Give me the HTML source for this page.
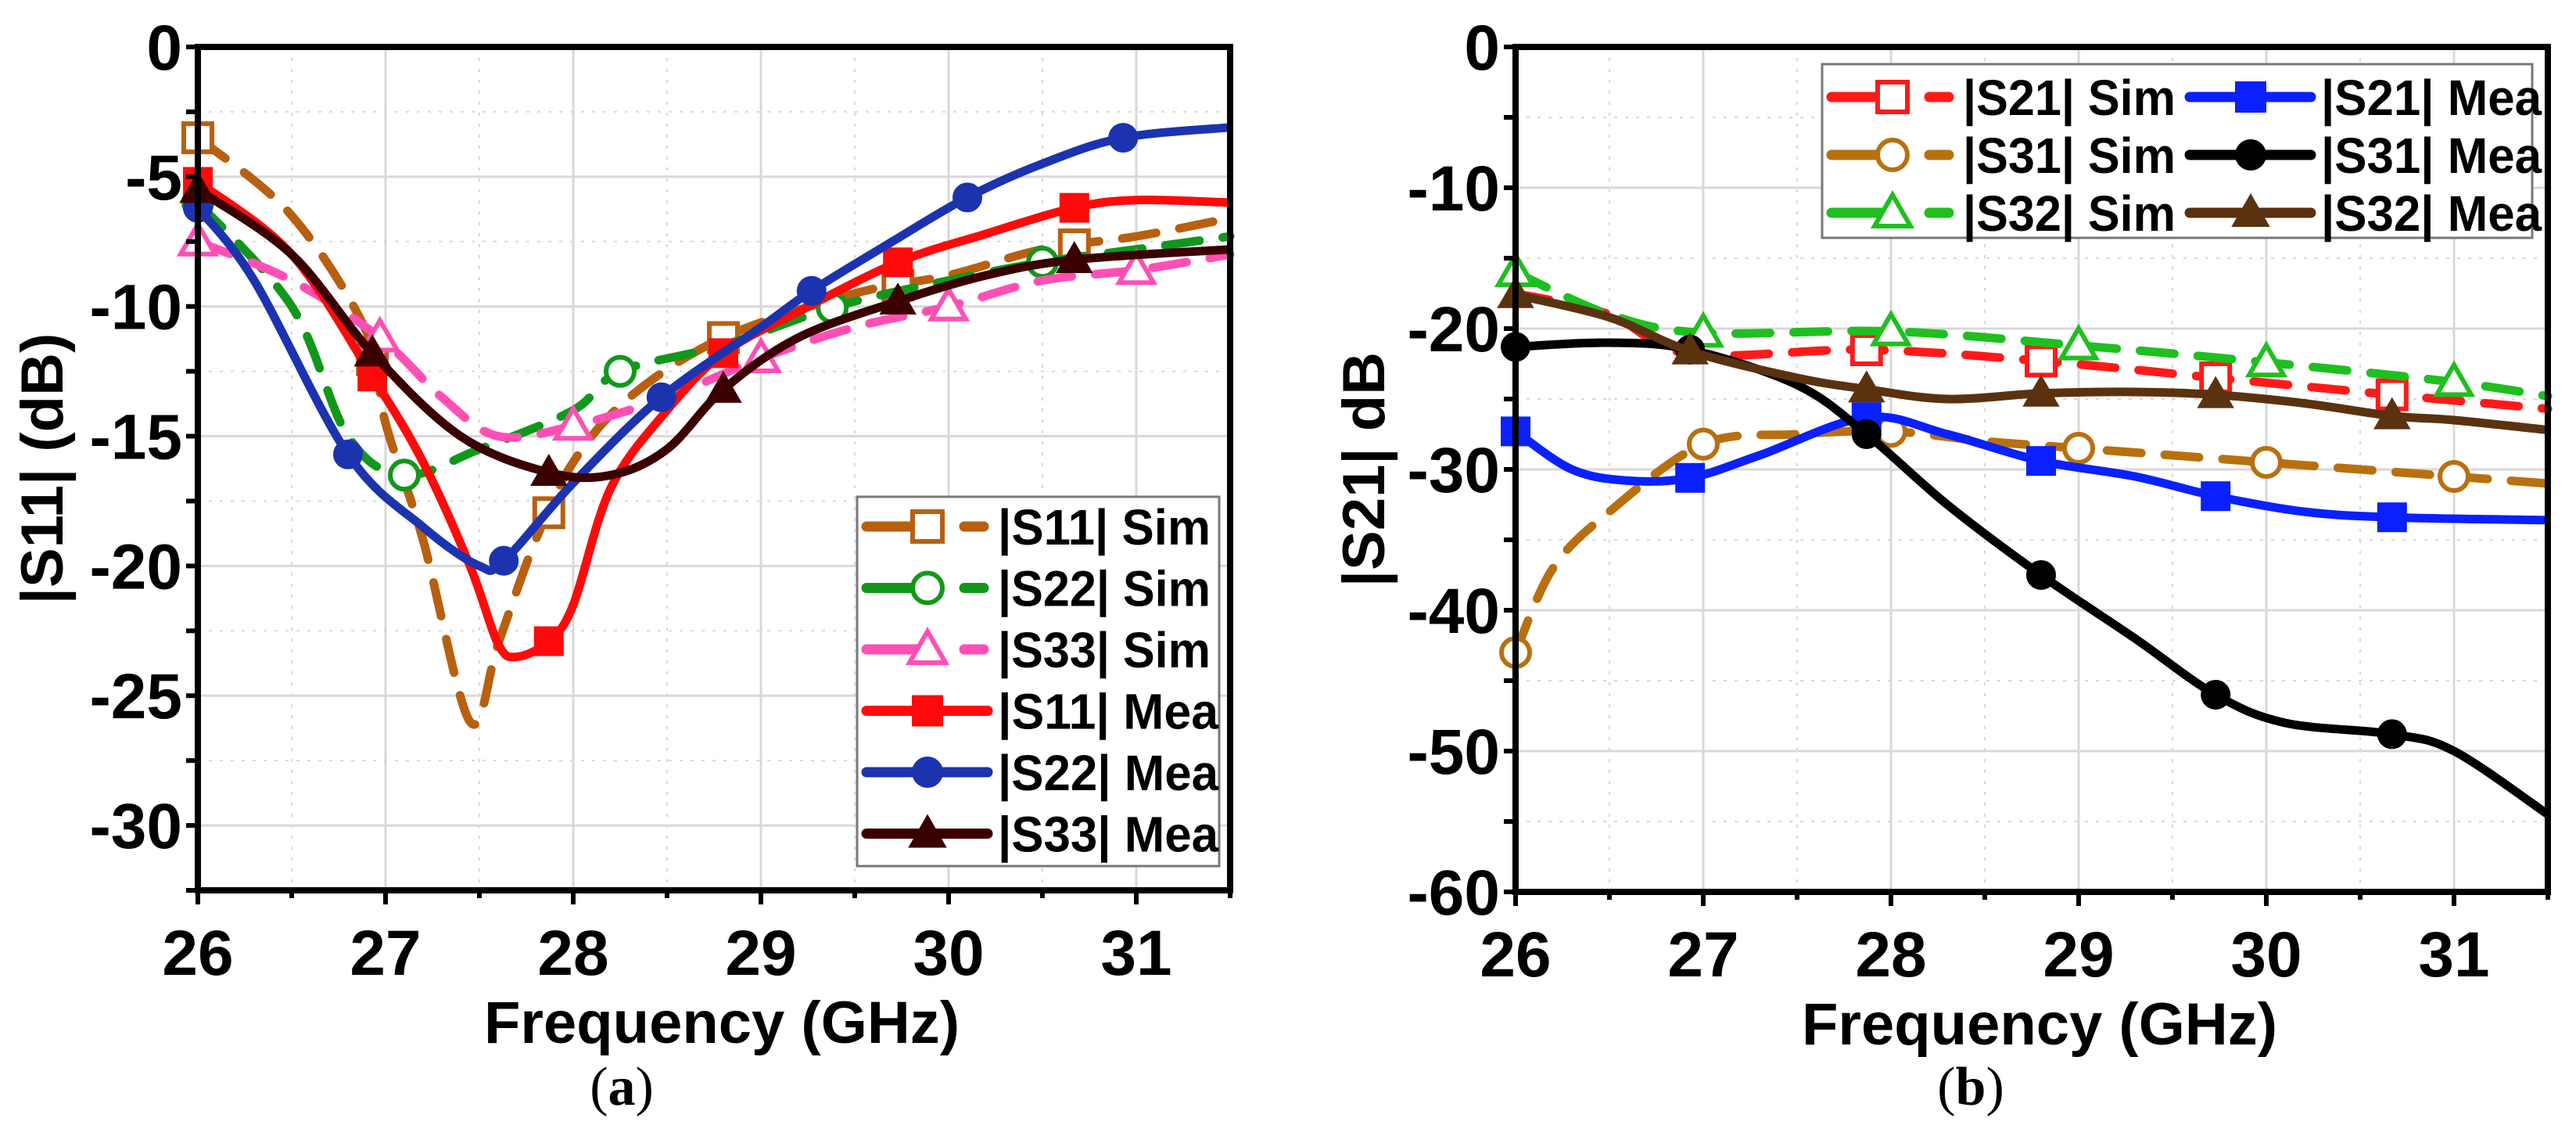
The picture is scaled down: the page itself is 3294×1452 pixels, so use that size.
<!DOCTYPE html>
<html><head><meta charset="utf-8">
<style>
html,body{margin:0;padding:0;background:#fff;}
svg{display:block;font-family:"Liberation Sans",Arial,sans-serif;}
</style></head>
<body>
<svg id="fig" width="3294" height="1452" viewBox="0 0 3294 1452" xmlns="http://www.w3.org/2000/svg">
<g id="chartA"></g>
<g id="chartB"></g>
<text x="795" y="1412" font-family="Liberation Serif,serif" font-size="70" text-anchor="middle">(<tspan font-weight="bold">a</tspan>)</text>
<text x="2520" y="1412" font-family="Liberation Serif,serif" font-size="70" text-anchor="middle">(<tspan font-weight="bold">b</tspan>)</text>
</svg>
<script>
// ---- Chart A data ----
const a_s11sim_f=[26,26.5,26.9,27.0,27.2,27.45,27.6,27.8,28.0,28.3,28.8,29.5,30,30.5,31,31.5];
const a_s11sim_v=[-3.5,-6.5,-11,-14.5,-19,-26,-23,-19,-16,-13.5,-11.2,-9.5,-8.8,-7.8,-7.3,-6.6];
const a_s11sim_m=[26,26.93,27.87,28.8,29.73,30.67];
const a_s22sim_f=[26,26.5,26.8,27.1,27.5,28.0,28.25,28.8,29.4,30,30.5,31,31.5];
const a_s22sim_v=[-6,-10,-15,-16.5,-15.5,-14,-12.5,-11.5,-10,-9,-8.3,-7.8,-7.3];
const a_s22sim_m=[26,27.1,28.25,29.38,30.5];
const a_s33sim_f=[26,26.5,26.97,27.3,27.6,28,28.5,29,29.5,30,30.5,31,31.5];
const a_s33sim_v=[-7.5,-9,-11.2,-13.5,-15,-14.6,-13.5,-12,-10.8,-10,-9,-8.6,-8];
const a_s33sim_m=[26,26.97,28,29,30,31];
const a_s11mea_f=[26,26.5,26.93,27.2,27.45,27.6,27.7,27.87,28.0,28.2,28.5,28.8,29.2,29.73,30.2,30.67,31,31.5];
const a_s11mea_v=[-5.2,-8,-12.7,-16,-20,-23,-23.5,-22.9,-21.5,-17,-14,-11.8,-10.2,-8.3,-7.2,-6.2,-5.9,-6];
const a_s11mea_m=[26,26.93,27.87,28.8,29.73,30.67];
const a_s22mea_f=[26,26.3,26.8,27.2,27.5,27.63,28.0,28.47,29,29.27,29.7,30.1,30.5,30.93,31.5];
const a_s22mea_v=[-6.2,-9,-15.7,-18.5,-20,-19.8,-16.8,-13.5,-10.8,-9.4,-7.5,-5.8,-4.5,-3.5,-3.1];
const a_s22mea_m=[26,26.8,27.63,28.47,29.27,30.1,30.93];
const a_s33mea_f=[26,26.5,26.93,27.4,27.87,28.2,28.5,28.8,29.2,29.73,30.2,30.67,31.5];
const a_s33mea_v=[-5.5,-8,-11.8,-15,-16.4,-16.5,-15.5,-13.2,-11.2,-9.8,-8.8,-8.2,-7.8];
const a_s33mea_m=[26,26.93,27.87,28.8,29.73,30.67];
const a_xticks=[26,27,28,29,30,31];
const a_yticks=[0,-5,-10,-15,-20,-25,-30];
// ---- Chart B data ----
const b_s21sim_f=[26,26.5,26.93,27.87,28.8,29.73,30.67,31.5];
const b_s21sim_v=[-17.5,-19,-21.8,-21.5,-22.3,-23.5,-24.7,-25.7];
const b_s21sim_m=[27.87,28.8,29.73,30.67];
const b_s31sim_f=[26,26.2,26.5,27.0,27.5,28,28.5,29,30,31,31.5];
const b_s31sim_v=[-43,-37,-33,-28.2,-27.5,-27.3,-28,-28.5,-29.5,-30.5,-31];
const b_s31sim_m=[26,27,28,29,30,31];
const b_s32sim_f=[26,26.5,27,28,29,30,31,31.5];
const b_s32sim_v=[-16,-19,-20.3,-20.2,-21.2,-22.4,-23.8,-24.8];
const b_s32sim_m=[26,27,28,29,30,31];
const b_s21mea_f=[26,26.3,26.6,26.93,27.3,27.87,28.3,28.8,29.3,29.73,30.2,30.67,31.5];
const b_s21mea_v=[-27.3,-30,-30.8,-30.6,-29,-26.3,-27.5,-29.4,-30.5,-31.9,-33,-33.4,-33.6];
const b_s21mea_m=[26,26.93,27.87,28.8,29.73,30.67];
const b_s31mea_f=[26,26.5,26.93,27.5,27.87,28.3,28.8,29.3,29.73,30.1,30.67,31,31.5];
const b_s31mea_v=[-21.3,-21,-21.5,-24,-27.5,-32.5,-37.5,-42,-46,-48,-48.8,-50,-54.5];
const b_s31mea_m=[26,26.93,27.87,28.8,29.73,30.67];
const b_s32mea_f=[26,26.5,26.93,27.5,27.87,28.3,28.8,29.3,29.73,30.2,30.67,31,31.5];
const b_s32mea_v=[-17.6,-19.2,-21.6,-23.5,-24.3,-25,-24.6,-24.5,-24.7,-25.3,-26.2,-26.5,-27.2];
const b_s32mea_m=[26,26.93,27.87,28.8,29.73,30.67];
const b_xticks=[26,27,28,29,30,31];
const b_yticks=[0,-10,-20,-30,-40,-50,-60];

const NS="http://www.w3.org/2000/svg";
function mk(parent,tag,attrs){const e=document.createElementNS(NS,tag);for(const k in attrs)e.setAttribute(k,attrs[k]);parent.appendChild(e);return e;}
function smooth(pts){let d="M"+pts[0][0]+","+pts[0][1];for(let i=0;i<pts.length-1;i++){const p0=pts[i-1]||pts[i],p1=pts[i],p2=pts[i+1],p3=pts[i+2]||p2;const c1=[p1[0]+(p2[0]-p0[0])/6,p1[1]+(p2[1]-p0[1])/6],c2=[p2[0]-(p3[0]-p1[0])/6,p2[1]-(p3[1]-p1[1])/6];d+=" C"+c1+" "+c2+" "+p2;}return d;}
function interp(f,v,x){for(let i=0;i<f.length-1;i++){if(x>=f[i]&&x<=f[i+1]){return v[i]+(v[i+1]-v[i])*(x-f[i])/(f[i+1]-f[i]);}}return x<f[0]?v[0]:v[v.length-1];}
function marker(g,type,cx,cy,color,s){
  const hw=s/2;let e;
  if(type==="sq"||type==="sqf"){e=mk(g,"rect",{x:cx-hw+4,y:cy-hw+4,width:s-8,height:s-8});}
  else if(type==="ci"||type==="cif"){e=mk(g,"circle",{cx:cx,cy:cy,r:hw-4});}
  else {e=mk(g,"polygon",{points:(cx)+","+(cy-hw)+" "+(cx+hw)+","+(cy+hw-6)+" "+(cx-hw)+","+(cy+hw-6)});}
  const filled=type.endsWith("f");
  e.setAttribute("fill",filled?color:"#fff");e.setAttribute("stroke",color);e.setAttribute("stroke-width",filled?2:6);
  return e;
}
function build(gid,cfg){
  const g=document.getElementById(gid);
  const X=f=>cfg.x0+(f-26)*(cfg.x1-cfg.x0)/5.5;
  const Y=v=>cfg.y0+(cfg.ymax-v)*(cfg.y1-cfg.y0)/(cfg.ymax-cfg.ymin);
  const grid=mk(g,"g",{});
  
  
  for(let f=26.5;f<31.5;f+=0.5){const major=Math.abs(f-Math.round(f))<1e-6;mk(grid,"line",{x1:X(f),x2:X(f),y1:cfg.y0,y2:cfg.y1,stroke:"#d8d8d8","stroke-width":major?3:2,"stroke-dasharray":major?"":"4,10"});}
  for(let v=cfg.ymax-cfg.step/2;v>cfg.ymin;v-=cfg.step/2){const major=Math.abs(v/cfg.step-Math.round(v/cfg.step))<1e-6;mk(grid,"line",{x1:cfg.x0,x2:cfg.x1,y1:Y(v),y2:Y(v),stroke:"#d8d8d8","stroke-width":major?3:2,"stroke-dasharray":major?"":"4,10"});}
  cfg.series.forEach(s=>{
    const sg=mk(g,"g",{});
    
    
    const pts=s.f.map((f,i)=>[X(f),Y(s.v[i])]);
    mk(sg,"path",{d:smooth(pts),fill:"none",stroke:s.c,"stroke-width":11,"stroke-dasharray":s.dash?"44,30":"","stroke-linejoin":"round","stroke-linecap":s.dash?"round":"butt"});
    s.m.forEach(f=>{const mm=marker(sg,s.mk,X(f),Y(interp(s.f,s.v,f)),s.c,44);
      
      });
  });
  const fr=mk(g,"rect",{x:cfg.x0,y:cfg.y0,width:cfg.x1-cfg.x0,height:cfg.y1-cfg.y0,fill:"none",stroke:"#000","stroke-width":8});
  
  
  for(let f=26;f<=31.5;f+=0.5){const major=Math.abs(f-Math.round(f))<1e-6;mk(g,"line",{x1:X(f),x2:X(f),y1:cfg.y1,y2:cfg.y1+(major?18:10),stroke:"#000","stroke-width":6});}
  cfg.xticks.forEach(t=>{const e=mk(g,"text",{x:X(t),y:cfg.y1+108,"font-size":82,"font-weight":"bold","text-anchor":"middle"});e.textContent=t;
    
    });
  for(let v=cfg.ymax;v>=cfg.ymin-1e-6;v-=cfg.step/2){mk(g,"line",{x1:cfg.x0,x2:cfg.x0-15,y1:Y(v),y2:Y(v),stroke:"#000","stroke-width":6});}
  cfg.yticks.forEach(t=>{const e=mk(g,"text",{x:cfg.x0-20,y:Y(t)+29,"font-size":82,"font-weight":"bold","text-anchor":"end"});e.textContent=t;
    
    });
  const xt=mk(g,"text",{x:(cfg.x0+cfg.x1)/2+10,y:cfg.y1+195,"font-size":76,"font-weight":"bold","text-anchor":"middle"});xt.textContent="Frequency (GHz)";
  
  
  const yt=mk(g,"text",{x:0,y:0,"font-size":76,"font-weight":"bold","text-anchor":"middle",transform:"translate("+cfg.ytx+","+((cfg.y0+cfg.y1)/2)+") rotate(-90)"});yt.textContent=cfg.ytitle;
  
  
  const L=cfg.legend;
  const lg=mk(g,"g",{});
  
  
  mk(lg,"rect",{x:L.x,y:L.y,width:L.w,height:L.h,fill:"#fff",stroke:"#777","stroke-width":3});
  cfg.series.forEach((s,i)=>{
    const col=Math.floor(i/L.rows),row=i%L.rows;
    const lx=L.x+12+col*L.colw,ly=L.y+L.r0+row*L.rh;
    const eg=mk(lg,"g",{});
    
    
    if(s.dash){mk(eg,"line",{x1:lx,x2:lx+80,y1:ly,y2:ly,stroke:s.c,"stroke-width":13,"stroke-linecap":"round"});mk(eg,"line",{x1:lx+125,x2:lx+150,y1:ly,y2:ly,stroke:s.c,"stroke-width":13,"stroke-linecap":"round"});}
    else mk(eg,"line",{x1:lx,x2:lx+155,y1:ly,y2:ly,stroke:s.c,"stroke-width":13,"stroke-linecap":"round"});
    marker(eg,s.mk,lx+78,ly,s.c,46);
    const t=mk(eg,"text",{x:lx+168,y:ly+23,"font-size":64,"font-weight":"bold",textLength:s.dash?272:282,lengthAdjust:"spacingAndGlyphs"});t.textContent=s.label;
  });
}
build("chartA",{x0:253,x1:1573,y0:60,y1:1138,ymax:0,ymin:-32.5,step:5,xticks:a_xticks,yticks:a_yticks,ytitle:"|S11| (dB)",ytx:80,
  legend:{x:1096,y:635,w:463,h:472,rows:6,colw:0,r0:38,rh:78.5},
  series:[
  {name:"s11-sim",label:"|S11| Sim",f:a_s11sim_f,v:a_s11sim_v,m:a_s11sim_m,c:"#b8600f",mk:"sq",dash:true},
  {name:"s22-sim",label:"|S22| Sim",f:a_s22sim_f,v:a_s22sim_v,m:a_s22sim_m,c:"#11981a",mk:"ci",dash:true},
  {name:"s33-sim",label:"|S33| Sim",f:a_s33sim_f,v:a_s33sim_v,m:a_s33sim_m,c:"#ff4fb5",mk:"tr",dash:true},
  {name:"s11-mea",label:"|S11| Mea",f:a_s11mea_f,v:a_s11mea_v,m:a_s11mea_m,c:"#ff0a0a",mk:"sqf",dash:false},
  {name:"s22-mea",label:"|S22| Mea",f:a_s22mea_f,v:a_s22mea_v,m:a_s22mea_m,c:"#1c33b0",mk:"cif",dash:false},
  {name:"s33-mea",label:"|S33| Mea",f:a_s33mea_f,v:a_s33mea_v,m:a_s33mea_m,c:"#3a0000",mk:"trf",dash:false}]});
build("chartB",{x0:1938,x1:3258,y0:60,y1:1140,ymax:0,ymin:-60,step:10,xticks:b_xticks,yticks:b_yticks,ytitle:"|S21| dB",ytx:1770,
  legend:{x:2330,y:82,w:908,h:222,rows:3,colw:458,r0:42,rh:74},
  series:[
  {name:"s21-sim",label:"|S21| Sim",f:b_s21sim_f,v:b_s21sim_v,m:b_s21sim_m,c:"#ff1a1a",mk:"sq",dash:true},
  {name:"s31-sim",label:"|S31| Sim",f:b_s31sim_f,v:b_s31sim_v,m:b_s31sim_m,c:"#b8700f",mk:"ci",dash:true},
  {name:"s32-sim",label:"|S32| Sim",f:b_s32sim_f,v:b_s32sim_v,m:b_s32sim_m,c:"#1fbf1f",mk:"tr",dash:true},
  {name:"s21-mea",label:"|S21| Mea",f:b_s21mea_f,v:b_s21mea_v,m:b_s21mea_m,c:"#0a20ff",mk:"sqf",dash:false},
  {name:"s31-mea",label:"|S31| Mea",f:b_s31mea_f,v:b_s31mea_v,m:b_s31mea_m,c:"#000000",mk:"cif",dash:false},
  {name:"s32-mea",label:"|S32| Mea",f:b_s32mea_f,v:b_s32mea_v,m:b_s32mea_m,c:"#5a3210",mk:"trf",dash:false}]});
</script>
</body></html>
